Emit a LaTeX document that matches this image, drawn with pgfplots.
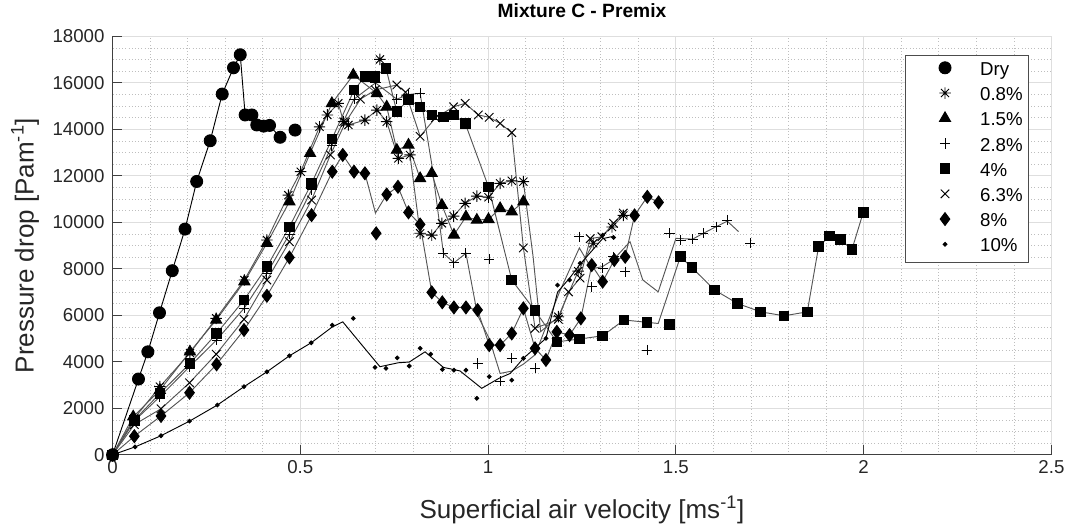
\documentclass[border=0pt]{standalone}
\usepackage{pgfplots}
\pgfplotsset{compat=1.18}
\usepackage{fontspec}
\setmainfont{Liberation Sans}
\definecolor{gridmaj}{RGB}{222,222,222}
\definecolor{gridmin}{RGB}{190,190,190}
\definecolor{ln}{RGB}{85,85,85}
\pgfdeclareplotmark{ast8}{%
 \pgfpathmoveto{\pgfqpoint{0pt}{\pgfplotmarksize}}\pgfpathlineto{\pgfqpoint{0pt}{-\pgfplotmarksize}}%
 \pgfpathmoveto{\pgfqpoint{\pgfplotmarksize}{0pt}}\pgfpathlineto{\pgfqpoint{-\pgfplotmarksize}{0pt}}%
 \pgfpathmoveto{\pgfqpoint{.707\pgfplotmarksize}{.707\pgfplotmarksize}}\pgfpathlineto{\pgfqpoint{-.707\pgfplotmarksize}{-.707\pgfplotmarksize}}%
 \pgfpathmoveto{\pgfqpoint{-.707\pgfplotmarksize}{.707\pgfplotmarksize}}\pgfpathlineto{\pgfqpoint{.707\pgfplotmarksize}{-.707\pgfplotmarksize}}%
 \pgfusepathqstroke}
\begin{document}
\begin{tikzpicture}
\begin{axis}[
 scale only axis, width=703.9pt, height=313.7pt,
 xmin=0, xmax=2.5, ymin=0, ymax=18000,
 xtick={0,0.5,1,1.5,2,2.5}, ytick={0,2000,...,18000},
 xticklabels={0,0.5,1,1.5,2,2.5},
 minor x tick num=4, minor y tick num=3,
 grid=both,
 major grid style={gridmaj, line width=0.6pt},
 minor grid style={gridmin, dotted, line width=0.5pt},
 axis lines=left,
 axis line style={black!75, line width=0.6pt, -},
 tick style={black!75, line width=0.6pt},
 major tick length=7pt, minor tick length=0pt,
 tick align=inside,
 scaled ticks=false,
 /pgf/number format/1000 sep={},
 /pgf/number format/assume math mode=true,
 ticklabel style={font=\fontsize{14}{16}\selectfont, text=black!85},
 yticklabel style={xshift=-2.5pt},
 xticklabel style={yshift=-1pt},
 xlabel={Superficial air velocity [ms\textsuperscript{-1}]},
 ylabel={Pressure drop [Pam\textsuperscript{-1}]},
 label style={font=\fontsize{19.5}{22}\selectfont, text=black!85},
 xlabel style={at={(axis description cs:0.5,-0.132)}, anchor=center},
 ylabel style={at={(axis description cs:-0.0932,0.5)}, anchor=center},
 title={Mixture C - Premix},
 every axis title shift=0pt,
 title style={at={(axis description cs:0.5,1.061)}, anchor=center, font=\fontsize{14.4}{17}\selectfont\bfseries},
 legend style={at={(axis description cs:1,1)}, anchor=north east, xshift=-17.2pt, yshift=-14pt,
   font=\fontsize{14}{16}\selectfont, draw=black!70, line width=0.6pt, fill=white,
   inner xsep=2pt, inner ysep=2.5pt, row sep=1.4pt,
   nodes={inner sep=2pt, text height=10.5pt, text depth=3pt}},
 legend cell align=left,
 legend image code/.code={\path (-27pt,0pt) (24pt,0pt); \draw[#1] plot coordinates {(0pt,2pt)};},
 every axis plot/.append style={line width=0.7pt},
]
% ---------- trend lines ----------
\addplot[black, forget plot] coordinates {(0,0) (0.069,3260) (0.094,4430) (0.125,6110) (0.159,7920) (0.193,9710) (0.224,11760) (0.260,13510) (0.292,15520) (0.322,16650) (0.340,17210) (0.353,14620) (0.371,14620) (0.384,14190) (0.402,14140) (0.418,14170) (0.446,13660)};
\addplot[ln, forget plot] coordinates {(0,0) (0.058,1570) (0.126,2930) (0.206,4380) (0.276,5870) (0.351,7520) (0.411,9240) (0.468,11170) (0.501,12180) (0.551,14110) (0.572,14620) (0.601,15120) (0.615,14330) (0.628,14190) (0.672,14400) (0.704,14830) (0.730,14330) (0.761,12750) (0.792,12900) (0.819,9530) (0.850,9450) (0.877,9960) (0.908,10270) (0.939,10820) (0.970,11130) (1.001,11080) (1.032,11680) (1.063,11790) (1.094,11750) (1.12,8500) (1.14,5300) (1.187,5940) (1.24,7900) (1.28,9100) (1.33,9800) (1.36,10300)};
\addplot[ln, forget plot] coordinates {(0,0) (0.055,1640) (0.126,2780) (0.206,4430) (0.276,5800) (0.351,7450) (0.411,9100) (0.471,10890) (0.526,12970) (0.584,15120) (0.641,16340) (0.704,15550) (0.730,14970) (0.757,13110) (0.788,13330) (0.819,11890) (0.850,12110) (0.877,10740) (0.909,9460) (0.941,10240) (0.970,10100) (1.001,10130) (1.032,10600) (1.063,10460) (1.094,10890)};
\addplot[ln, forget plot] coordinates {(0,0) (0.058,1460) (0.126,2500) (0.205,3790) (0.277,4940) (0.350,6300) (0.411,7800) (0.471,9500) (0.530,11400) (0.584,13300) (0.643,15300) (0.70,16000) (0.757,15300) (0.788,15500) (0.819,15550) (0.85,12500) (0.881,8670) (0.909,8260) (0.941,8670) (0.972,6000) (1.003,5000) (1.032,3500) (1.063,3600) (1.094,3900) (1.125,4300) (1.19,7000) (1.243,8900) (1.276,8000) (1.305,8100) (1.334,8400) (1.378,9170) (1.412,7520) (1.453,7010) (1.50,9310) (1.545,9280) (1.573,9530) (1.607,9810) (1.637,10050) (1.667,9600)};
\addplot[ln, forget plot] coordinates {(0,0) (0.058,1490) (0.126,2640) (0.206,3930) (0.277,5220) (0.350,6660) (0.411,8090) (0.471,9810) (0.530,11680) (0.584,13580) (0.643,15690) (0.672,16270) (0.699,16270) (0.728,16630) (0.757,14760) (0.788,15290) (0.819,14970) (0.850,14620) (0.881,14540) (0.909,14620) (0.939,14260) (1.001,11530) (1.063,7520) (1.125,6200) (1.183,4860) (1.243,4980) (1.305,5120) (1.362,5800) (1.423,5700) (1.453,5650) (1.512,8520) (1.543,8050) (1.603,7090) (1.664,6510) (1.726,6150) (1.788,5980) (1.850,6150) (1.880,8950) (1.909,9410) (1.938,9260) (1.969,8840) (1.999,10430)};
\addplot[ln, forget plot] coordinates {(0,0) (0.058,1300) (0.129,1980) (0.205,3100) (0.276,4330) (0.350,5830) (0.411,7520) (0.471,9170) (0.530,10960) (0.58,12900) (0.62,14300) (0.66,15300) (0.70,15700) (0.757,15910) (0.78,15600) (0.819,13700) (0.86,14500) (0.908,14970) (0.939,15120) (0.974,14620) (1.003,14520) (1.032,14260) (1.063,13860) (1.094,8900) (1.125,5440) (1.187,5830) (1.214,7010) (1.245,7600) (1.272,9300) (1.303,9380) (1.334,9960) (1.36,10400)};
\addplot[ln, forget plot] coordinates {(0,0) (0.058,800) (0.129,1670) (0.205,2670) (0.277,3890) (0.350,5370) (0.411,6840) (0.471,8490) (0.530,10310) (0.585,12180) (0.613,12900) (0.643,12180) (0.672,12110) (0.70,10400) (0.730,11200) (0.760,11530) (0.788,10430) (0.819,9910) (0.850,6990) (0.878,6560) (0.909,6340) (0.941,6340) (0.972,6230) (1.003,4720) (1.032,4720) (1.063,5220) (1.094,6300) (1.125,4580) (1.154,4080) (1.183,5290) (1.217,5150) (1.247,5870) (1.276,8160) (1.305,7450) (1.336,8380) (1.365,8520) (1.39,10300) (1.424,11100) (1.454,10860)};
\addplot[black, forget plot] coordinates {(0,0) (0.060,340) (0.129,820) (0.205,1450) (0.279,2140) (0.350,2930) (0.411,3570) (0.471,4260) (0.529,4820) (0.585,5500) (0.613,5720) (0.66,4800) (0.712,3790) (0.761,3960) (0.79,3990) (0.832,4430) (0.881,3760) (0.925,3610) (0.983,2860) (1.03,3300) (1.059,3500) (1.094,4150) (1.154,5010) (1.185,7000) (1.217,7600) (1.245,8200) (1.305,9300) (1.334,9400)};
% ---------- markers ----------
\addplot[only marks, black, mark=*, mark size=4.5pt] coordinates {(0,0) (0.069,3260) (0.094,4430) (0.125,6110) (0.159,7920) (0.193,9710) (0.224,11760) (0.260,13510) (0.292,15520) (0.322,16650) (0.340,17210) (0.353,14620) (0.371,14620) (0.384,14190) (0.402,14140) (0.418,14170) (0.446,13660) (0.486,13970)};
\addlegendentry{Dry}
\addplot[only marks, black, mark=ast8, mark size=4.3pt] coordinates {(0,0) (0.058,1570) (0.126,2930) (0.206,4380) (0.276,5870) (0.351,7520) (0.411,9240) (0.468,11170) (0.501,12180) (0.551,14110) (0.572,14620) (0.601,15120) (0.615,14330) (0.628,14190) (0.672,14400) (0.704,14830) (0.712,17010) (0.730,14330) (0.761,12750) (0.792,12900) (0.819,9530) (0.850,9450) (0.877,9960) (0.908,10270) (0.939,10820) (0.970,11130) (1.001,11080) (1.032,11680) (1.063,11790) (1.094,11750) (1.187,5940) (1.24,7900) (1.28,9100) (1.33,9800) (1.36,10300)};
\addlegendentry{0.8\%}
\addplot[only marks, black, mark=triangle*, mark size=4.8pt] coordinates {(0,0) (0.055,1640) (0.126,2780) (0.206,4430) (0.276,5800) (0.351,7450) (0.411,9100) (0.471,10890) (0.526,12970) (0.584,15120) (0.641,16340) (0.704,15550) (0.730,14970) (0.757,13110) (0.788,13330) (0.819,11890) (0.850,12110) (0.877,10740) (0.909,9460) (0.941,10240) (0.970,10100) (1.001,10130) (1.032,10600) (1.063,10460) (1.094,10890)};
\addlegendentry{1.5\%}
\addplot[only marks, black, mark=+, mark size=3.8pt] coordinates {(0,0) (0.058,1460) (0.126,2500) (0.205,3790) (0.277,4940) (0.350,6300) (0.411,7800) (0.471,9500) (0.530,11400) (0.584,13300) (0.643,15300) (0.70,16000) (0.757,15300) (0.788,15500) (0.819,15550) (0.881,8670) (0.909,8260) (0.941,8670) (0.972,3930) (1.003,8410) (1.032,3170) (1.063,4150) (1.125,3720) (1.243,9380) (1.276,7230) (1.305,8020) (1.334,8520) (1.365,7880) (1.424,4510) (1.483,9530) (1.513,9240) (1.545,9280) (1.573,9530) (1.607,9810) (1.637,10100) (1.698,9100)};
\addlegendentry{2.8\%}
\addplot[only marks, black, mark=square*, mark size=3.6pt] coordinates {(0,0) (0.058,1490) (0.126,2640) (0.206,3930) (0.277,5220) (0.350,6660) (0.411,8090) (0.471,9810) (0.530,11680) (0.584,13580) (0.643,15690) (0.672,16270) (0.699,16270) (0.728,16630) (0.757,14760) (0.788,15290) (0.819,14970) (0.850,14620) (0.881,14540) (0.909,14620) (0.939,14260) (1.001,11530) (1.063,7520) (1.125,6200) (1.183,4860) (1.243,4980) (1.305,5120) (1.362,5800) (1.423,5700) (1.483,5620) (1.512,8520) (1.543,8050) (1.603,7090) (1.664,6510) (1.726,6150) (1.788,5980) (1.850,6150) (1.880,8950) (1.909,9410) (1.938,9260) (1.969,8840) (1.999,10430)};
\addlegendentry{4\%}
\addplot[only marks, black, mark=x, mark size=4.5pt] coordinates {(0,0) (0.058,1300) (0.129,1980) (0.205,3100) (0.276,4330) (0.350,5830) (0.411,7520) (0.471,9170) (0.530,10960) (0.58,12900) (0.62,14300) (0.66,15300) (0.70,15700) (0.757,15910) (0.78,15600) (0.819,13700) (0.86,14500) (0.908,14970) (0.939,15120) (0.974,14620) (1.003,14520) (1.032,14260) (1.063,13860) (1.094,8900) (1.125,5440) (1.187,5830) (1.214,7010) (1.245,7600) (1.272,9300) (1.303,9380) (1.334,9960) (1.36,10400)};
\addlegendentry{6.3\%}
\addplot[only marks, black, mark=diamond*, mark size=4.8pt] coordinates {(0,0) (0.058,800) (0.129,1670) (0.205,2670) (0.277,3890) (0.350,5370) (0.411,6840) (0.471,8490) (0.530,10310) (0.585,12180) (0.613,12900) (0.643,12180) (0.672,12110) (0.702,9530) (0.730,11200) (0.760,11530) (0.788,10430) (0.819,9910) (0.850,6990) (0.878,6560) (0.909,6340) (0.941,6340) (0.972,6230) (1.003,4720) (1.032,4720) (1.063,5220) (1.094,6300) (1.125,4580) (1.154,4080) (1.183,5290) (1.217,5150) (1.247,5870) (1.276,8160) (1.305,7450) (1.336,8380) (1.365,8520) (1.39,10300) (1.424,11100) (1.454,10860)};
\addlegendentry{8\%}
\addplot[only marks, black, mark=*, mark size=1.4pt] coordinates {(0,0) (0.060,340) (0.129,820) (0.205,1450) (0.279,2140) (0.350,2930) (0.411,3570) (0.471,4260) (0.529,4820) (0.585,5580) (0.641,5870) (0.699,3760) (0.728,3720) (0.758,4170) (0.790,3820) (0.819,4580) (0.847,4330) (0.878,3670) (0.909,3640) (0.941,3640) (0.970,2430) (1.003,3360) (1.063,3210) (1.094,4150) (1.154,5010) (1.185,7300) (1.217,7520) (1.245,8240) (1.305,9450) (1.334,9350)};
\addlegendentry{10\%}
\end{axis}
\pgfresetboundingbox
\useasboundingbox ([xshift=-84.4pt,yshift=-53.5pt]current axis.south west) rectangle ([xshift=11.7pt,yshift=27.3pt]current axis.north east);
\end{tikzpicture}
\end{document}
